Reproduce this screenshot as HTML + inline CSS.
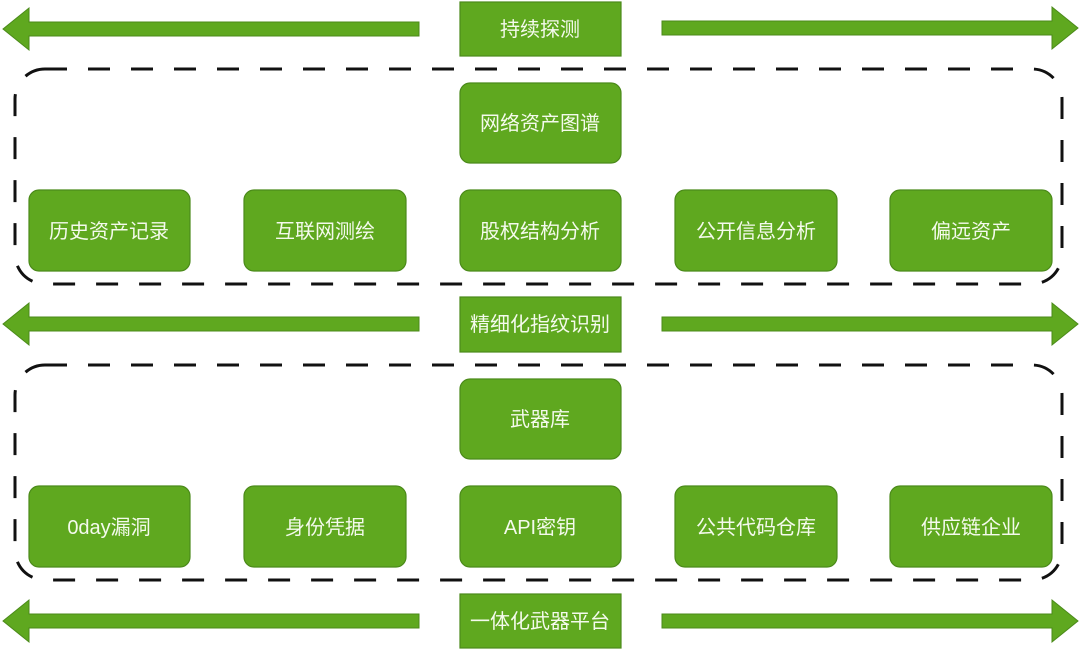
<!DOCTYPE html>
<html><head><meta charset="utf-8"><style>
html,body{margin:0;padding:0;background:#fff;width:1080px;height:650px;overflow:hidden}
text{font-family:"Liberation Sans","Noto Sans CJK SC",sans-serif;font-size:20px;fill:#f4faec;text-anchor:middle;dominant-baseline:central}
</style></head><body>
<svg width="1080" height="650" viewBox="0 0 1080 650" xmlns="http://www.w3.org/2000/svg">
<defs>
<g id="la"><polygon points="3,0 29,-21 29,-7 419,-7 419,7 29,7 29,21" fill="#5fa81f" stroke="#4b8a1a" stroke-width="1"/></g>
<g id="ra"><polygon points="1078,0 1052,-21 1052,-7 662,-7 662,7 1052,7 1052,21" fill="#5fa81f" stroke="#4b8a1a" stroke-width="1"/></g>
</defs>
<g fill="#5fa81f" stroke="#4b8a1a" stroke-width="1">
<use href="#la" y="29"/><use href="#ra" y="28"/>
<use href="#la" y="324"/><use href="#ra" y="324"/>
<use href="#la" y="621"/><use href="#ra" y="621"/>
</g>
<g fill="none" stroke="#111" stroke-width="3" stroke-dasharray="22,21">
<rect x="15" y="69" width="1047" height="215" rx="30"/>
<rect x="15" y="365" width="1047" height="215" rx="30"/>
</g>
<g fill="#5fa81f" stroke="#4b8a1a" stroke-width="1.2">
<rect x="460" y="2" width="161" height="54"/>
<rect x="460" y="297" width="161" height="55"/>
<rect x="460" y="594" width="161" height="54"/>
<rect x="460" y="83" width="161" height="80" rx="10"/>
<rect x="29" y="190" width="161" height="81" rx="10"/>
<rect x="244" y="190" width="162" height="81" rx="10"/>
<rect x="460" y="190" width="161" height="81" rx="10"/>
<rect x="675" y="190" width="162" height="81" rx="10"/>
<rect x="890" y="190" width="162" height="81" rx="10"/>
<rect x="460" y="379" width="161" height="80" rx="10"/>
<rect x="29" y="486" width="161" height="81" rx="10"/>
<rect x="244" y="486" width="162" height="81" rx="10"/>
<rect x="460" y="486" width="161" height="81" rx="10"/>
<rect x="675" y="486" width="162" height="81" rx="10"/>
<rect x="890" y="486" width="162" height="81" rx="10"/>
</g>
<text x="540" y="30">持续探测</text>
<text x="540" y="325">精细化指纹识别</text>
<text x="540" y="622">一体化武器平台</text>
<text x="540" y="124">网络资产图谱</text>
<text x="109" y="232">历史资产记录</text>
<text x="325" y="232">互联网测绘</text>
<text x="540" y="232">股权结构分析</text>
<text x="756" y="232">公开信息分析</text>
<text x="971" y="232">偏远资产</text>
<text x="540" y="420">武器库</text>
<text x="109" y="528">0day漏洞</text>
<text x="325" y="528">身份凭据</text>
<text x="540" y="528">API密钥</text>
<text x="756" y="528">公共代码仓库</text>
<text x="971" y="528">供应链企业</text>
</svg>
</body></html>
